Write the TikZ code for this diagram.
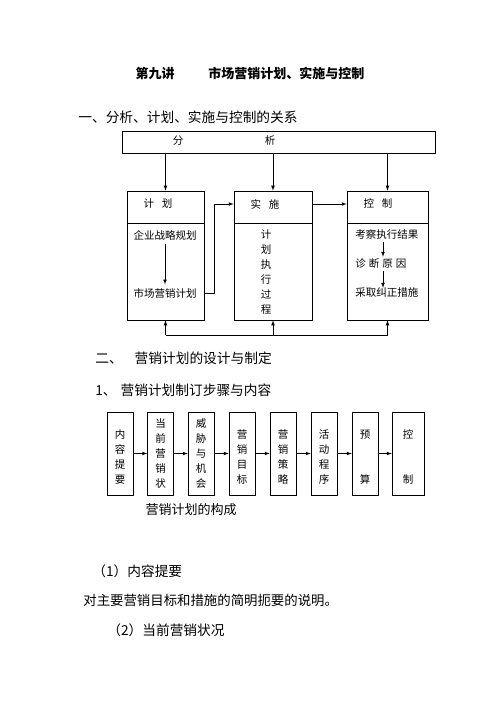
\documentclass[tikz,border=0pt]{standalone}
\usepackage{fontspec}
\setmainfont{Noto Sans CJK SC}

\tikzset{
  bigbox/.style={draw, line width=0.7pt, inner sep=0pt},
  stepbox/.style={draw, line width=0.7pt, inner sep=0pt, minimum width=26pt,
    minimum height=83pt, align=center, font=\fontsize{10.5}{15}\selectfont},
  para/.style={anchor=west, inner sep=0pt, font=\fontsize{13.7}{16}\selectfont},
}

\begin{document}
\begin{tikzpicture}[x=1pt, y=-1pt, >=latex, line width=0.7pt,
    font=\fontsize{10.5}{15}\selectfont]
        \useasboundingbox (0,0) rectangle (502,708);

        % headings
        \node (title) [inner sep=0pt, font=\fontsize{13}{16}\selectfont\bfseries] at (250,73)
            {第九讲\hspace{34pt}市场营销计划、实施与控制};
        \node (sec1) [para] at (78,117) {一、分析、计划、实施与控制的关系};

        % analysis / plan / implementation / control
        \node (fenxi) [bigbox, minimum width=313pt, minimum height=22pt] at (278.5,142) {};
        \node (fen) at (178,141) {分};
        \node (xi) at (270,141) {析};

        \node (jihua) [bigbox, minimum width=77pt, minimum height=129pt] at (165.5,255.5) {};
        \node (shishi) [bigbox, minimum width=78pt, minimum height=129pt] at (273,255.5) {};
        \node (kongzhi) [bigbox, minimum width=81pt, minimum height=129pt] at (387.5,255.5) {};
        \draw (jihua.west |- 0,223) -- (jihua.east |- 0,223);
        \draw (shishi.west |- 0,223) -- (shishi.east |- 0,223);
        \draw (kongzhi.west |- 0,223) -- (kongzhi.east |- 0,223);

        \node (jhhead) at (158,204) {计\hspace{8pt}划};
        \node (sshead) at (265,204) {实\hspace{8pt}施};
        \node (kzhead) at (378,204) {控\hspace{8pt}制};

        \node (qyzl) at (165,235) {企业战略规划};
        \node (scjh) at (165,293) {市场营销计划};
        \node (zhixing) [align=center] at (266,272.5) {计\\划\\执\\行\\过\\程};
        \node (kaocha) [anchor=west, inner sep=0pt] at (355,235) {考察执行结果};
        \node (zhenduan) [anchor=west, inner sep=0pt] at (355,264) {诊\hspace{3pt}断\hspace{3pt}原\hspace{3pt}因};
        \node (caiqu) [anchor=west, inner sep=0pt] at (355,293) {采取纠正措施};

        \draw[->] (fenxi.south -| jihua.north) -- (jihua.north);
        \draw[->] (fenxi.south -| shishi.north) -- (shishi.north);
        \draw[->] (fenxi.south -| kongzhi.north) -- (kongzhi.north);
        \draw[->] (qyzl) -- (scjh);
        \draw[->] (jihua.east |- scjh) -- ++(10,0) |- (shishi.west |- sshead);
        \draw[->] (shishi.east |- sshead) -- (kongzhi.west |- sshead);
        \draw[->] ([yshift=-2pt]kaocha.south -| 383,0) -- ([yshift=2pt]zhenduan.north -| 383,0);
        \draw[->] ([yshift=-2pt]zhenduan.south -| 383,0) -- (caiqu.north -| 383,0);

        % feedback
        \draw (jihua.south |- 0,335) -- (kongzhi.south |- 0,335);
        \draw[->] (jihua.south |- 0,335) -- (jihua.south);
        \draw[->] (shishi.south |- 0,335) -- (shishi.south);
        \draw[->] (kongzhi.south |- 0,335) -- (kongzhi.south);

        % marketing plan steps
        \node (sec2) [para] at (95,358) {二、\hspace{12pt}营销计划的设计与制定};
        \node (sec21) [para] at (95,390) {1、\hspace{4pt}营销计划制订步骤与内容};

        \node (tiyao) [stepbox] at (120,453.5) {\mbox{}\\内\\容\\提\\要};
        \node (zhuangkuang) [stepbox] at (160.5,453.5) {当\\前\\营\\销\\状};
        \node (weixie) [stepbox] at (201,453.5) {威\\胁\\与\\机\\会};
        \node (mubiao) [stepbox] at (242,453.5) {\mbox{}\\营\\销\\目\\标};
        \node (celue) [stepbox] at (283,453.5) {\mbox{}\\营\\销\\策\\略};
        \node (chengxu) [stepbox] at (324,453.5) {\mbox{}\\活\\动\\程\\序};
        \node (yusuan) [stepbox] at (365,453.5) {\mbox{}\\预\\\mbox{}\\\mbox{}\\算};
        \node (kongzhi2) [stepbox, minimum width=32pt] at (408,453.5) {\mbox{}\\控\\\mbox{}\\\mbox{}\\制};

        \draw[->] (tiyao) -- (zhuangkuang);
        \draw[->] (zhuangkuang) -- (weixie);
        \draw[->] (weixie) -- (mubiao);
        \draw[->] (mubiao) -- (celue);
        \draw[->] (celue) -- (chengxu);
        \draw[->] (chengxu) -- (yusuan);
        \draw[->] (yusuan) -- (kongzhi2);

        \node (goucheng) [font=\fontsize{13}{16}\selectfont] at (191,510) {营销计划的构成};

        % text below
        \node (item1) [para] at (92,571) {（1）内容提要};
        \node (shuoming) [para, font=\fontsize{13.4}{16}\selectfont] at (83,600) {对主要营销目标和措施的简明扼要的说明。};
        \node (item2) [para] at (107,630) {（2）当前营销状况};
\end{tikzpicture}
\end{document}
